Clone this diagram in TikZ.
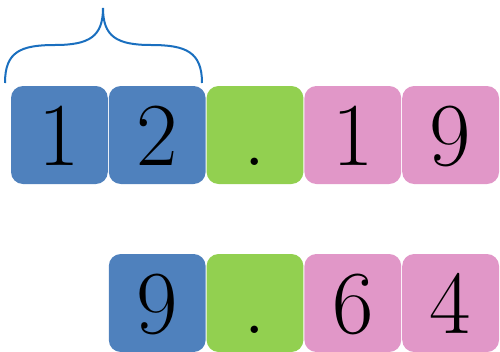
\documentclass[tikz,border=0pt]{standalone}
\usepackage{xcolor}
\usepackage{tikz}
\usetikzlibrary{positioning}
\definecolor{intblue}{HTML}{4F81BD}
\definecolor{dotgreen}{HTML}{92D050}
\definecolor{fracpink}{HTML}{E197C8}
\definecolor{bracecol}{HTML}{1A6FBF}

\begin{document}
\begin{tikzpicture}[x=1pt, y=-1pt, node distance=1pt,
    digit/.style={rounded corners=12pt, minimum width=96.8pt, minimum height=98pt,
        inner sep=0pt, outer sep=0pt, text height=60pt, text depth=0pt,
        font=\rmfamily\fontsize{90}{90}\selectfont},
    intpart/.style={digit, fill=intblue},
    point/.style={digit, fill=dotgreen},
    fracpart/.style={digit, fill=fracpink}]
    \useasboundingbox (0,0) rectangle (500,351);

    % First number
    \node[intpart, anchor=north west] (a1) at (11,86) {1};
    \node[intpart, right=of a1] (a2) {2};
    \node[point, right=of a2] (ap) {.};
    \node[fracpart, right=of ap] (a3) {1};
    \node[fracpart, right=of a3] (a4) {9};

    % Second number
    \node[intpart, below=70pt of a2] (b1) {9};
    \node[point, right=of b1] (bp) {.};
    \node[fracpart, right=of bp] (b2) {6};
    \node[fracpart, right=of b2] (b3) {4};

    % Brace over the integer part
    \draw[bracecol, line width=2pt]
        (5,83) .. controls (5,52) and (20,45) .. (55,45)
        .. controls (90,45) and (103,36) .. (103,8)
        .. controls (103,36) and (116,45) .. (151,45)
        .. controls (186,45) and (202,52) .. (202,83);
\end{tikzpicture}
\end{document}
